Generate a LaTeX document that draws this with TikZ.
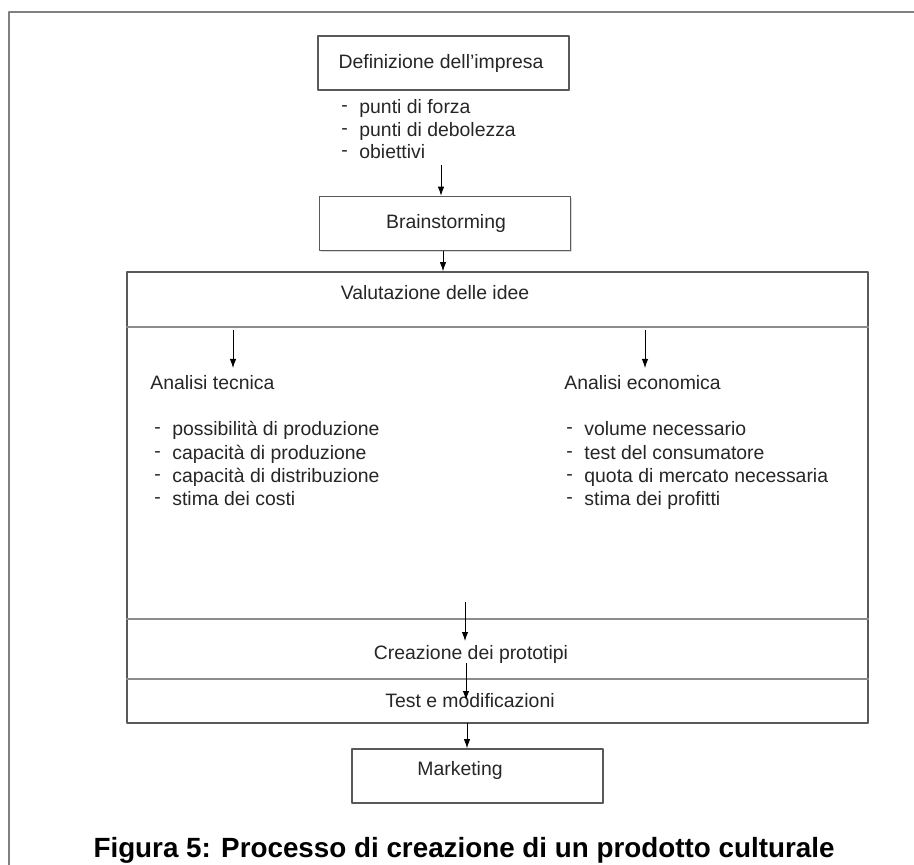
\documentclass[tikz,border=0pt]{standalone}
\usepackage{fontspec}
\setmainfont{Liberation Sans}
\usetikzlibrary{arrows.meta,shadows}

\tikzset{
  box/.style={draw=black!65,line width=.8pt,fill=white,inner sep=0pt,
    minimum width=125.5pt,minimum height=27pt,
    drop shadow={shadow xshift=.7pt,shadow yshift=-.7pt,opacity=.3}},
  lbl/.style={text=black!85,inner sep=0pt,font=\fontsize{9.7}{11.6}\selectfont},
  item/.style={lbl,anchor=west,text height=7pt,text depth=2pt},
  sep/.style={draw=black!45,line width=.8pt},
}
\newcommand{\dashmark}{\makebox[9pt][l]{\raisebox{1pt}{-}}}

\begin{document}
\begin{tikzpicture}[x=.5pt,y=-.5pt,>={Latex[length=4.5pt,width=3.2pt]},line join=bevel]
\clip (0,0) rectangle (914,865);
% page frame
\draw [black!50,line width=1pt] (9,880) -- (9,12) -- (930,12);

\node [box] at (443.5,63) (def) {};
\node [lbl] at (441,63) (deftxt) {Definizione dell'impresa};
\foreach \t [count=\i] in {punti di forza,punti di debolezza,obiettivi}
  \node [item] at (341,86.5+22.5*\i) (d\i) {\dashmark\t};

\node [box] at (445,223.5) (brain) {};
\node [lbl] at (446,223.5) (braintxt) {Brainstorming};

% big block
\node [box,minimum width=370.5pt,minimum height=225.5pt] at (497.5,497.5) (val) {};
\draw [sep] (val.west |- 0,327) -- (val.east |- 0,327);
\draw [sep] (val.west |- 0,619) -- (val.east |- 0,619);
\draw [sep] (val.west |- 0,679) -- (val.east |- 0,679);
\node [lbl] at (435,293) (valtxt) {Valutazione delle idee};

\node [item] at (150,385) (tec) {Analisi tecnica};
\node [item] at (564,385) (eco) {Analisi economica};
\foreach \t [count=\i] in {possibilità di produzione,capacità di produzione,capacità di distribuzione,stima dei costi}
  \node [item] at (154,408+23*\i) (t\i) {\dashmark\t};
\foreach \t [count=\i] in {volume necessario,test del consumatore,quota di mercato necessaria,stima dei profitti}
  \node [item] at (566,408+23*\i) (e\i) {\dashmark\t};

\node [lbl] at (471,654) (proto) {Creazione dei prototipi};
\node [lbl] at (470,701) (test) {Test e modificazioni};

\node [box] at (477.5,776) (mkt) {};
\node [lbl] at (460,770) (mkttxt) {Marketing};

\node [anchor=base,inner sep=0pt,font=\fontsize{13.9}{16}\selectfont\bfseries] at (464,857) (cap)
  {Figura 5: Processo di creazione di un prodotto culturale};

% arrows
\coordinate (c1) at (441,165);
\coordinate (c2) at (233,330);
\coordinate (c3) at (233,368);
\coordinate (c4) at (645,330);
\coordinate (c5) at (645,368);
\coordinate (c6) at (465,602);
\coordinate (c7) at (465,641);
\coordinate (c8) at (466,663);
\coordinate (c9) at (466,700);
\coordinate (c10) at (467,723);
\draw [->] (c1) -- (brain.north -| c1);
\draw [->] (brain.south -| 443,0) -- (val.north -| 443,0);
\draw [->] (c2) -- (c3);
\draw [->] (c4) -- (c5);
\draw [->] (c6) -- (c7);
\draw [->] (c8) -- (c9);
\draw [->] (c10) -- (mkt.north -| c10);
\end{tikzpicture}
\end{document}
